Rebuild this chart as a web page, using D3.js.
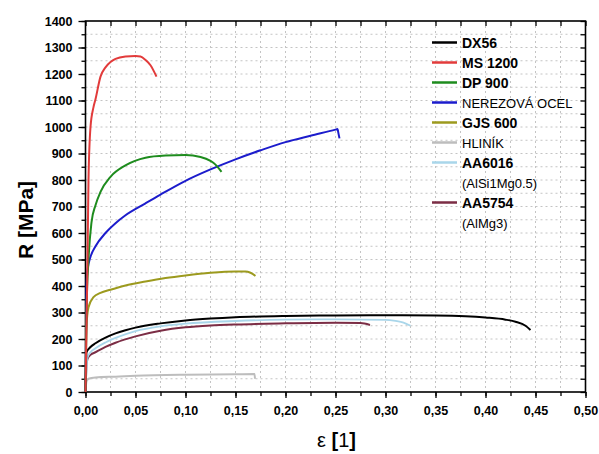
<!DOCTYPE html>
<meta charset="utf-8">
<script src="https://d3js.org/d3.v7.min.js"></script>
<style>
  body { margin: 0; background: #fff; }
  text { font-family: "Liberation Sans", Arial, sans-serif; }
</style>
<div id="my_dataviz"></div>
<script>

// material names shown in the legend
var materials = ["DX56", "MS 1200", "DP 900", "NEREZOVÁ OCEL", "GJS 600", "HLINÍK", "AA6016", "AA5754"];
var subLabels = ["", "", "", "", "", "", "(AlSi1Mg0.5)", "(AlMg3)"];
var boldLabel = [true, true, true, false, true, false, true, true];
var colors = ["#000000", "#e23b3b", "#1e8c1e", "#1c1ccc", "#9c9a1e", "#bdbdbd", "#a9d6ea", "#7b2d45"];

// curves: [strain, stress MPa]
var dx56 = [[0,0],[0.001,150],[0.005,170],[0.01,184],[0.02,205],[0.03,221],[0.04,233],[0.05,243],[0.075,259],[0.10,270],[0.125,277],[0.15,282],[0.20,287],[0.25,289],[0.30,290],[0.35,289],[0.38,286],[0.40,281],[0.42,273],[0.43,265],[0.44,250],[0.445,234]];
var ms1200 = [[0,0],[0.002,500],[0.003,800],[0.005,1000],[0.008,1075],[0.01,1105],[0.015,1190],[0.02,1225],[0.025,1245],[0.03,1257],[0.04,1266],[0.05,1268],[0.055,1266],[0.06,1253],[0.065,1233],[0.071,1190]];
var dp900 = [[0,0],[0.001,300],[0.003,500],[0.006,640],[0.01,705],[0.015,755],[0.025,812],[0.04,855],[0.06,884],[0.08,892],[0.10,894],[0.115,887],[0.125,872],[0.13,858],[0.136,831]];
var nerez = [[0,0],[0.001,400],[0.002,460],[0.005,510],[0.01,550],[0.02,600],[0.03,637],[0.04,667],[0.06,712],[0.075,745],[0.10,797],[0.125,840],[0.15,878],[0.175,912],[0.20,943],[0.225,967],[0.25,990],[0.252,992],[0.253,975],[0.254,957]];
var gjs600 = [[0,0],[0.001,250],[0.003,320],[0.008,358],[0.015,374],[0.025,386],[0.04,402],[0.06,417],[0.08,430],[0.10,440],[0.125,450],[0.15,455],[0.16,455],[0.165,450],[0.17,438]];
var hlinik = [[0,0],[0.001,40],[0.003,50],[0.01,55],[0.03,58],[0.05,61],[0.10,65],[0.15,67],[0.169,68],[0.1695,50]];
var aa6016 = [[0,0],[0.002,130],[0.005,150],[0.01,165],[0.02,187],[0.03,204],[0.05,230],[0.075,248],[0.10,258],[0.15,268],[0.20,273],[0.25,274],[0.30,272],[0.31,268],[0.318,262],[0.325,250]];
var aa5754 = [[0,0],[0.001,100],[0.002,125],[0.005,140],[0.01,150],[0.02,170],[0.03,186],[0.05,210],[0.075,231],[0.10,244],[0.125,251],[0.15,255],[0.20,259],[0.25,261],[0.275,260],[0.2845,253]];
var curves = [dx56, ms1200, dp900, nerez, gjs600, hlinik, aa6016, aa5754];

var xTicks = [0, 0.05, 0.10, 0.15, 0.20, 0.25, 0.30, 0.35, 0.40, 0.45, 0.50];
var yTicks = [0, 100, 200, 300, 400, 500, 600, 700, 800, 900, 1000, 1100, 1200, 1300, 1400];

var W = 599, H = 454;
var plotL = 85.5, plotR = 585.5, plotT = 21, plotB = 392;

var svg = d3.select("#my_dataviz")
  .append("svg")
    .attr("width", W)
    .attr("height", H);

var x = d3.scaleLinear().domain([0, 0.5]).range([plotL, plotR]);
var y = d3.scaleLinear().domain([0, 1400]).range([plotB, plotT]);

var xMinor = d3.range(0, 0.5001, 0.025);
var yMinor = d3.range(0, 1400.1, 50);

// dotted grid at every minor step
svg.append("g").selectAll("line").data(xMinor.slice(1, -1)).join("line")
  .attr("x1", d => x(d)).attr("x2", d => x(d))
  .attr("y1", plotT).attr("y2", plotB)
  .attr("stroke", "#c4c4c4").attr("stroke-width", 1).attr("stroke-dasharray", "2,3");
svg.append("g").selectAll("line").data(yMinor.slice(1, -1)).join("line")
  .attr("x1", plotL).attr("x2", plotR)
  .attr("y1", d => y(d)).attr("y2", d => y(d))
  .attr("stroke", "#c4c4c4").attr("stroke-width", 1).attr("stroke-dasharray", "2,3");

var fmt = d => d3.format(".2f")(d).replace(".", ",");

// axes
function styleAxis(g) {
  g.select(".domain").remove();
  g.selectAll("line").attr("stroke", "#000").attr("stroke-width", 1.3);
  g.selectAll("text").attr("font-size", "12.5px").attr("font-weight", "bold").attr("fill", "#000");
}

svg.append("g").attr("transform", "translate(0," + plotB + ")")
  .call(d3.axisBottom(x).tickValues(xMinor).tickSize(4).tickFormat(""))
  .call(styleAxis);
svg.append("g").attr("transform", "translate(0," + plotB + ")")
  .call(d3.axisBottom(x).tickValues(xTicks).tickSize(6).tickPadding(8).tickFormat(fmt))
  .call(styleAxis);

svg.append("g").attr("transform", "translate(" + plotL + ",0)")
  .call(d3.axisLeft(y).tickValues(yMinor).tickSize(4).tickFormat(""))
  .call(styleAxis);
svg.append("g").attr("transform", "translate(" + plotL + ",0)")
  .call(d3.axisLeft(y).tickValues(yTicks).tickSize(7).tickPadding(6).tickFormat(d3.format("d")))
  .call(styleAxis);

svg.append("g").attr("transform", "translate(0," + plotT + ")")
  .call(d3.axisTop(x).tickValues(xMinor).tickSize(-5).tickFormat(""))
  .call(styleAxis);
svg.append("g").attr("transform", "translate(" + plotR + ",0)")
  .call(d3.axisRight(y).tickValues(yMinor).tickSize(-5).tickFormat(""))
  .call(styleAxis);

// frame
svg.append("rect")
  .attr("x", plotL).attr("y", plotT)
  .attr("width", plotR - plotL).attr("height", plotB - plotT)
  .attr("fill", "none").attr("stroke", "#000").attr("stroke-width", 1.6);

// curves
var line = d3.line().x(d => x(d[0])).y(d => y(d[1])).curve(d3.curveMonotoneX);
var order = [5, 7, 6, 0, 4, 3, 2, 1];
svg.append("g").selectAll("path").data(order).join("path")
  .attr("d", i => line(curves[i]))
  .attr("fill", "none")
  .attr("stroke", i => colors[i])
  .attr("stroke-width", i => i === 6 ? 1.8 : 2)
  .attr("stroke-linejoin", "round");

// legend
var rows = [0, 1, 2, 3, 4, 5, 6, 8];
var lg = svg.append("g");
materials.forEach(function(name, i) {
  var ry = 42.5 + rows[i] * 20;
  lg.append("line")
    .attr("x1", 432).attr("x2", 457).attr("y1", ry).attr("y2", ry)
    .attr("stroke", colors[i]).attr("stroke-width", 2.5);
  lg.append("text")
    .attr("x", 462).attr("y", ry + 5)
    .attr("font-size", boldLabel[i] ? "14px" : "13px")
    .attr("font-weight", boldLabel[i] ? "bold" : "normal")
    .text(name);
  if (subLabels[i]) {
    lg.append("text")
      .attr("x", 462).attr("y", ry + 25)
      .attr("font-size", "13px")
      .text(subLabels[i]);
  }
});

// axis titles
svg.append("text")
  .attr("transform", "translate(33,220) rotate(-90)")
  .attr("text-anchor", "middle")
  .attr("font-size", "21px").attr("font-weight", "bold")
  .text("R [MPa]");

var xl = svg.append("text").attr("x", 317).attr("y", 447).attr("font-size", "20px");
xl.append("tspan").text("ε ");
xl.append("tspan").attr("font-weight", "bold").text("[");
xl.append("tspan").text("1");
xl.append("tspan").attr("font-weight", "bold").text("]");

</script>
